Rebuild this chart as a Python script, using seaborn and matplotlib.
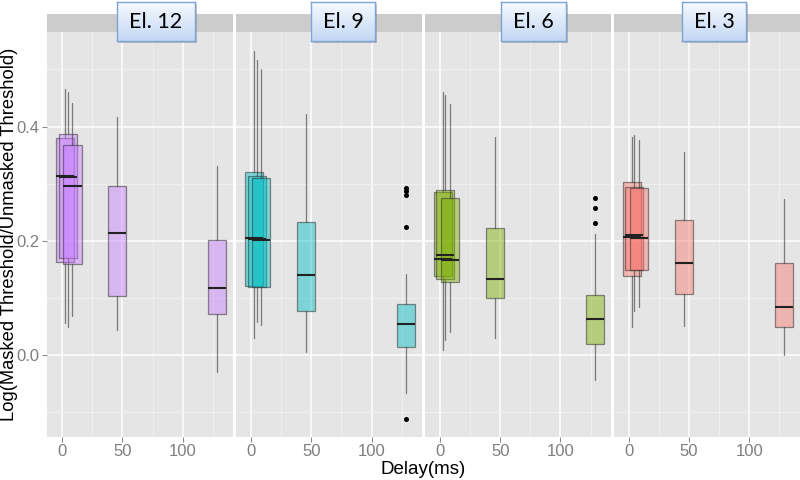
import matplotlib
matplotlib.use('Agg')
import numpy as np
import pandas as pd
import matplotlib.pyplot as plt
from matplotlib.patches import Rectangle
from matplotlib.colors import LinearSegmentedColormap
from matplotlib.ticker import FixedLocator
import seaborn as sns

# --------------------------------------------------
# Data (box statistics)
# --------------------------------------------------
electrodes = ['El. 12', 'El. 9', 'El. 6', 'El. 3']
delays = [2.5, 4.5, 8.5, 45.5, 128.5]
box_colors = {'El. 12': '#C77CFF', 'El. 9': '#00BFC4', 'El. 6': '#7CAE00', 'El. 3': '#F8766D'}

q1 = {'El. 12': [0.164, 0.171, 0.159, 0.104, 0.072],
      'El. 9':  [0.122, 0.120, 0.120, 0.077, 0.014],
      'El. 6':  [0.139, 0.133, 0.129, 0.100, 0.020],
      'El. 3':  [0.139, 0.150, 0.150, 0.108, 0.050]}
median = {'El. 12': [0.314, 0.312, 0.297, 0.214, 0.117],
          'El. 9':  [0.206, 0.204, 0.201, 0.141, 0.054],
          'El. 6':  [0.168, 0.176, 0.167, 0.134, 0.063],
          'El. 3':  [0.207, 0.211, 0.205, 0.161, 0.084]}
q3 = {'El. 12': [0.380, 0.387, 0.367, 0.296, 0.202],
      'El. 9':  [0.321, 0.314, 0.311, 0.233, 0.089],
      'El. 6':  [0.286, 0.289, 0.276, 0.223, 0.105],
      'El. 3':  [0.304, 0.294, 0.292, 0.236, 0.161]}
whisker_low = {'El. 12': [0.056, 0.049, 0.069, 0.045, -0.030],
               'El. 9':  [0.031, 0.058, 0.053, 0.006, -0.066],
               'El. 6':  [0.009, 0.026, 0.040, 0.031, -0.044],
               'El. 3':  [0.050, 0.078, 0.084, 0.052, 0.000]}
whisker_high = {'El. 12': [0.465, 0.461, 0.441, 0.416, 0.331],
                'El. 9':  [0.532, 0.517, 0.500, 0.422, 0.143],
                'El. 6':  [0.460, 0.455, 0.439, 0.381, 0.212],
                'El. 3':  [0.382, 0.385, 0.377, 0.356, 0.273]}
outliers = {'El. 12': [[], [], [], [], []],
            'El. 9':  [[], [], [], [], [0.293, 0.287, 0.280, 0.224, -0.111]],
            'El. 6':  [[], [], [], [], [0.276, 0.258, 0.232]],
            'El. 3':  [[], [], [], [], []]}

rows = []
for el in electrodes:
    for i, d in enumerate(delays):
        rows.append({'electrode': el, 'delay': d, 'q1': q1[el][i], 'med': median[el][i],
                     'q3': q3[el][i], 'lo': whisker_low[el][i], 'hi': whisker_high[el][i],
                     'fliers': outliers[el][i]})
df = pd.DataFrame(rows)

# --------------------------------------------------
# Style
# --------------------------------------------------
sns.set_theme(style='darkgrid', rc={'axes.facecolor': '#E5E5E5',
                                    'grid.color': 'white',
                                    'figure.facecolor': 'white'})
plt.rcParams['font.family'] = ['Liberation Sans', 'DejaVu Sans']


def draw_boxes(data, **kws):
    ax = plt.gca()
    col = box_colors[data['electrode'].iloc[0]]
    stats = [dict(med=r.med, q1=r.q1, q3=r.q3, whislo=r.lo, whishi=r.hi, fliers=r.fliers)
             for r in data.itertuples()]
    ax.bxp(stats, positions=list(data['delay']), widths=15, patch_artist=True,
           showcaps=False, manage_ticks=False,
           boxprops=dict(facecolor=matplotlib.colors.to_rgba(col, 0.45),
                         edgecolor=(0.2, 0.2, 0.2, 0.55), linewidth=0.9),
           whiskerprops=dict(color=(0.2, 0.2, 0.2, 0.6), linewidth=0.9),
           medianprops=dict(color='#222222', linewidth=1.5),
           flierprops=dict(marker='o', markerfacecolor='black', markeredgecolor='black',
                           markersize=2.6))


g = sns.FacetGrid(df, col='electrode', col_order=electrodes, sharey=True, sharex=True)
g.map_dataframe(draw_boxes)
fig = g.figure
fig.set_size_inches(8, 4.8)
fig.subplots_adjust(left=0.059, right=0.9996, bottom=0.0902, top=0.9327, wspace=0.016)

for i, (ax, el) in enumerate(zip(g.axes.flat, electrodes)):
    ax.set_xlim(-12.5, 141.8)
    ax.set_ylim(-0.1424, 0.565)
    ax.set_title('')
    ax.set_xlabel('')
    ax.set_ylabel('')
    ax.set_xticks([0, 50, 100])
    ax.set_xticklabels(['0', '50', '100'])
    ax.set_yticks([0.0, 0.2, 0.4])
    ax.set_yticklabels(['0.0', '0.2', '0.4'])
    ax.xaxis.set_minor_locator(FixedLocator([25, 75, 125]))
    ax.yaxis.set_minor_locator(FixedLocator([-0.1, 0.1, 0.3, 0.5]))
    ax.grid(which='major', color='white', linewidth=1.1)
    ax.grid(which='minor', color='#F2F2F2', linewidth=0.6)
    for s in ax.spines.values():
        s.set_visible(False)
    ax.tick_params(axis='both', which='major', length=3.5, width=0.8, color='#8A8A8A',
                   labelcolor='#7F7F7F', labelsize=12, pad=2, bottom=True,
                   left=(i == 0), labelleft=(i == 0))
    ax.tick_params(which='minor', length=0)

    # grey strip
    ax.add_patch(Rectangle((0, 1), 1, 0.0445, transform=ax.transAxes, clip_on=False,
                           facecolor='#CCCCCC', edgecolor='none', zorder=3))

fig.text(0.529, 0.021, 'Delay(ms)', ha='center', va='center', fontsize=13.5, color='black')
fig.text(0.0115, 0.511, 'Log(Masked Threshold/Unmasked Threshold)', ha='center', va='center',
         rotation=90, fontsize=13.2, color='black')

# --------------------------------------------------
# Callout boxes with gradient over the strips
# --------------------------------------------------
W, H = 800, 480
label_cx = [156, 343, 533.5, 714]   # box centres, pixels
box_top, box_h = 2, 39
grad = LinearSegmentedColormap.from_list('lbl', ['#C3D7F3', '#F6FAFF'])
gradient = np.linspace(0, 1, 64).reshape(-1, 1)

labels = []
for el, cx in zip(electrodes, label_cx):
    t = fig.text(cx / W, 1 - (box_top + box_h / 2) / H, el, ha='center', va='center',
                 fontsize=15.5, family=['Lato', 'DejaVu Sans'], color='black', zorder=20)
    labels.append(t)
fig.canvas.draw()
for t, cx in zip(labels, label_cx):
    w = t.get_window_extent().width + 24
    # shadow
    sh = fig.add_axes([(cx - w / 2 + 2) / W, 1 - (box_top + box_h + 2) / H, w / W, box_h / H])
    sh.set_facecolor((0.4, 0.4, 0.4, 0.35))
    sh.set_xticks([])
    sh.set_yticks([])
    for s in sh.spines.values():
        s.set_visible(False)
    box = fig.add_axes([(cx - w / 2) / W, 1 - (box_top + box_h) / H, w / W, box_h / H])
    box.imshow(gradient, aspect='auto', cmap=grad, origin='lower', extent=(0, 1, 0, 1))
    box.set_xticks([])
    box.set_yticks([])
    box.grid(False)
    for s in box.spines.values():
        s.set_visible(True)
        s.set_color('#7FA3D6')
        s.set_linewidth(1)

fig.savefig('out.png', dpi=100)
